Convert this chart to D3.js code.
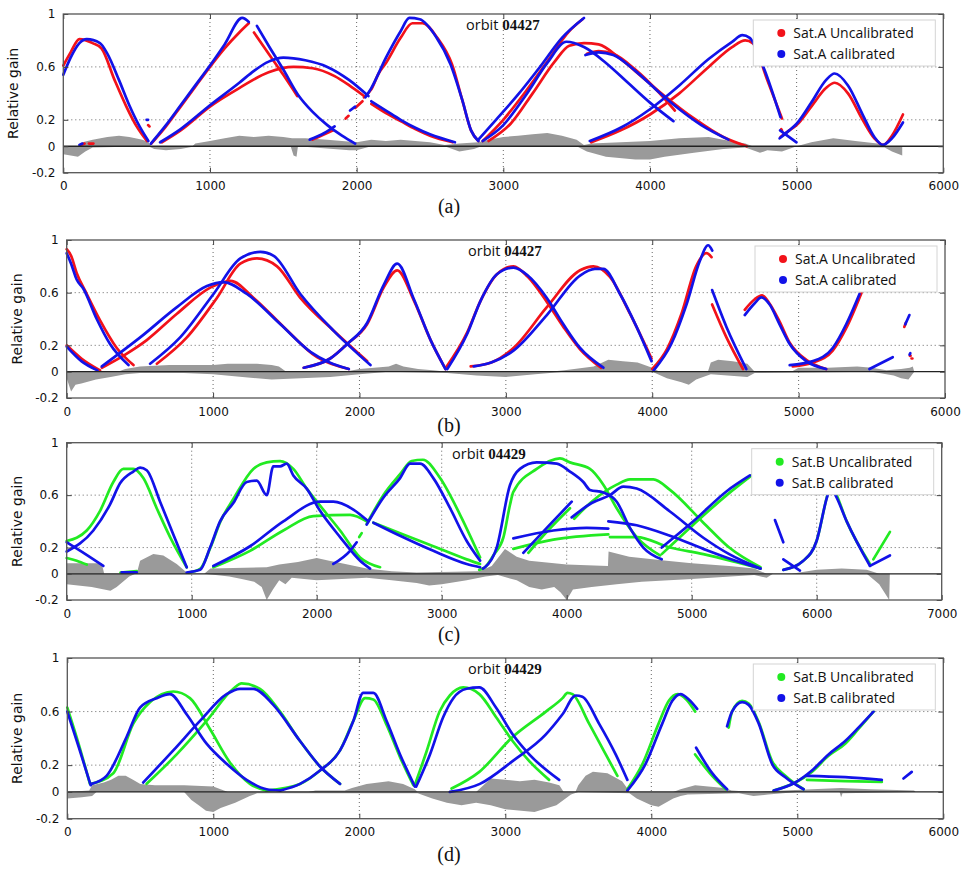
<!DOCTYPE html>
<html>
<head>
<meta charset="utf-8">
<script src="https://cdn.jsdelivr.net/npm/d3@7"></script>
<style>
  body { margin: 0; background: #fff; }
  svg { display: block; }
</style>
</head>
<body>
<svg id="chart" width="962" height="869"></svg>
<script>
// tick values
var xTicks6000 = [0, 1000, 2000, 3000, 4000, 5000, 6000];
var xTicks7000 = [0, 1000, 2000, 3000, 4000, 5000, 6000, 7000];
var yTicks = [-0.2, 0, 0.2, 0.6, 1];
var yGrid = [0.2, 0.6];

var captions = ['(a)', '(b)', '(c)', '(d)'];
var orbits = ['04427', '04427', '04429', '04429'];
var legendA = ['Sat.A Uncalibrated', 'Sat.A calibrated'];
var legendB = ['Sat.B Uncalibrated', 'Sat.B calibrated'];

// panel (a) - each entry is one run of samples [index, gain]
var aRed = [
    [[0,0.61],[50,0.71],[110,0.81],[200,0.78],[260,0.74],[350,0.5],[430,0.3],[500,0.15],[570,0.04]],
    [[120,0.01],[145,0.02]],
    [[175,0.02],[205,0.02]],
    [[578,0.16],[588,0.15]],
    [[600,0.02],[700,0.15],[800,0.3],[900,0.45],[1000,0.6],[1100,0.74],[1200,0.86],[1265,0.93]],
    [[1300,0.86],[1400,0.7],[1500,0.54],[1595,0.38]],
    [[672,0.03],[800,0.12],[1000,0.3],[1200,0.44],[1400,0.56],[1570,0.6],[1700,0.59],[1850,0.53],[1950,0.46],[2050,0.38]],
    [[1700,0.05],[1780,0.09],[1840,0.12]],
    [[1925,0.21],[1945,0.23]],
    [[1990,0.29],[2040,0.34]],
    [[2050,0.37],[2100,0.43],[2150,0.55],[2200,0.63],[2300,0.82],[2380,0.93],[2450,0.93],[2550,0.82],[2650,0.62],[2720,0.35],[2780,0.12],[2830,0.04]],
    [[2100,0.32],[2200,0.25],[2300,0.19],[2400,0.13],[2500,0.08],[2655,0.03]],
    [[2860,0.04],[3000,0.2],[3150,0.41],[3300,0.64],[3450,0.87],[3540,0.96]],
    [[2900,0.04],[3050,0.17],[3200,0.4],[3350,0.64],[3450,0.76],[3550,0.78],[3650,0.77],[3800,0.66],[3950,0.52],[4100,0.38],[4300,0.21],[4500,0.07],[4660,0.0]],
    [[3570,0.7],[3650,0.72],[3750,0.7],[3900,0.58],[4050,0.42],[4170,0.27]],
    [[3600,0.03],[3800,0.12],[4000,0.24],[4200,0.4],[4400,0.6],[4560,0.75],[4650,0.8],[4700,0.78],[4800,0.5],[4900,0.21]],
    [[4895,0.13],[4900,0.12]],
    [[4890,0.07],[4950,0.12],[5000,0.16],[5100,0.3],[5200,0.44],[5260,0.48],[5350,0.4],[5450,0.2],[5530,0.06],[5590,0.01],[5650,0.08],[5725,0.24]]
];
var aBlue = [
    [[0,0.54],[50,0.67],[110,0.78],[160,0.81],[250,0.78],[300,0.7],[380,0.5],[450,0.31],[520,0.15],[580,0.04]],
    [[110,0.01],[130,0.02]],
    [[568,0.2],[578,0.2]],
    [[597,0.02],[700,0.16],[800,0.31],[900,0.46],[1000,0.61],[1100,0.77],[1220,0.97],[1265,0.94]],
    [[1320,0.91],[1400,0.76],[1500,0.58],[1600,0.39],[1700,0.26],[1800,0.16],[1900,0.08],[1990,0.02]],
    [[660,0.03],[800,0.13],[1000,0.31],[1200,0.48],[1300,0.57],[1400,0.64],[1500,0.67],[1650,0.65],[1800,0.6],[1950,0.5],[2080,0.38]],
    [[1680,0.05],[1780,0.1],[1850,0.15]],
    [[1955,0.27],[1990,0.3]],
    [[2060,0.37],[2100,0.44],[2200,0.67],[2300,0.87],[2360,0.97],[2430,0.96],[2540,0.83],[2640,0.62],[2720,0.35],[2780,0.12],[2830,0.04]],
    [[2100,0.34],[2200,0.27],[2300,0.2],[2400,0.14],[2500,0.09],[2670,0.03]],
    [[2830,0.05],[2950,0.2],[3100,0.39],[3250,0.6],[3400,0.82],[3550,0.97]],
    [[2860,0.04],[3000,0.16],[3150,0.38],[3300,0.63],[3430,0.79],[3550,0.75],[3700,0.63],[3850,0.48],[4000,0.33],[4160,0.19]],
    [[3560,0.69],[3650,0.71],[3750,0.69],[3900,0.57],[4050,0.42],[4200,0.28],[4350,0.16],[4535,0.05]],
    [[3590,0.04],[3800,0.14],[4000,0.28],[4200,0.46],[4400,0.66],[4560,0.79],[4630,0.84],[4680,0.82],[4780,0.58],[4890,0.22]],
    [[4887,0.12],[4999,0.03]],
    [[4884,0.06],[4950,0.12],[5000,0.17],[5100,0.33],[5200,0.5],[5259,0.55],[5350,0.46],[5450,0.24],[5530,0.07],[5587,0.01],[5650,0.06],[5725,0.18]]
];
var aGrayPos = [[0,0],[100,0],[130,0.03],[200,0.05],[300,0.07],[380,0.08],[450,0.07],[540,0.05],[580,0.03],[600,0],[880,0],[900,0.02],[1000,0.04],[1100,0.06],[1150,0.07],[1200,0.08],[1300,0.07],[1400,0.08],[1500,0.07],[1560,0.06],[1650,0.06],[1800,0.05],[1900,0.04],[2000,0.03],[2100,0.05],[2200,0.04],[2300,0.05],[2400,0.04],[2500,0.03],[2600,0.01],[2700,0.02],[2830,0.03],[2900,0.05],[3000,0.07],[3100,0.08],[3200,0.09],[3300,0.1],[3400,0.08],[3500,0.05],[3550,0.01],[3600,0.02],[3800,0.03],[4000,0.04],[4200,0.06],[4400,0.07],[4500,0.05],[4650,0.02],[4700,0],[5000,0],[5100,0.03],[5250,0.06],[5400,0.04],[5550,0.02],[5600,0],[5720,0]];
var aGrayNeg = [[0,-0.06],[100,-0.08],[150,-0.04],[200,-0.01],[580,0],[620,-0.02],[700,-0.03],[800,-0.02],[900,0],[1550,0],[1570,-0.07],[1590,-0.08],[1600,0],[1950,-0.03],[2000,-0.03],[2100,0],[2600,0],[2700,-0.04],[2800,-0.02],[2850,0],[3500,0],[3570,-0.04],[3700,-0.08],[3900,-0.1],[4000,-0.1],[4100,-0.08],[4300,-0.05],[4500,-0.02],[4650,-0.01],[4750,-0.05],[4800,-0.03],[4900,-0.04],[5000,0],[5600,-0.01],[5650,-0.04],[5720,-0.07]];

// panel (b)
var bRed = [
    [[0,0.93],[30,0.88],[68,0.75],[137,0.59],[228,0.39],[342,0.18],[456,0.05]],
    [[0,0.2],[100,0.1],[228,0.01]],
    [[240,0.03],[400,0.13],[547,0.24],[753,0.44],[984,0.64],[1120,0.69],[1277,0.56],[1482,0.34],[1710,0.11],[1927,0.02]],
    [[616,0.06],[821,0.26],[1026,0.56],[1186,0.82],[1300,0.86],[1437,0.8],[1596,0.56],[1824,0.31],[2052,0.08]],
    [[1619,0.03],[1800,0.1],[1916,0.21],[2052,0.36],[2166,0.64],[2258,0.77],[2372,0.54],[2486,0.24],[2588,0.02]],
    [[2590,0.03],[2737,0.3],[2828,0.54],[2939,0.74],[3052,0.8],[3150,0.72],[3280,0.53],[3393,0.34],[3507,0.17],[3650,0.03]],
    [[2760,0.04],[2900,0.07],[3052,0.18],[3280,0.49],[3507,0.77],[3598,0.8],[3711,0.72],[3848,0.44],[3995,0.1]],
    [[4000,0.02],[4100,0.17],[4200,0.44],[4300,0.8],[4370,0.9],[4405,0.87]],
    [[4409,0.51],[4507,0.26],[4620,0.02]],
    [[4632,0.47],[4700,0.55],[4750,0.58],[4800,0.52],[4870,0.38],[4939,0.22],[5052,0.09],[5188,0.02]],
    [[4960,0.04],[5100,0.07],[5233,0.16],[5325,0.33],[5430,0.6]],
    [[5722,0.34],[5732,0.37]],
    [[5760,0.12],[5765,0.12]],
    [[5772,0.1],[5777,0.1]]
];
var bBlue = [
    [[0,0.9],[30,0.82],[68,0.7],[114,0.63],[205,0.4],[296,0.21],[422,0.05]],
    [[0,0.19],[100,0.08],[210,0.01]],
    [[240,0.04],[502,0.26],[753,0.49],[958,0.65],[1072,0.68],[1231,0.59],[1460,0.36],[1665,0.15],[1927,0.02]],
    [[570,0.06],[775,0.26],[1003,0.59],[1186,0.86],[1323,0.91],[1414,0.88],[1596,0.59],[1824,0.31],[2075,0.05]],
    [[1619,0.03],[1800,0.1],[1916,0.21],[2052,0.37],[2166,0.66],[2258,0.82],[2372,0.55],[2486,0.24],[2588,0.02]],
    [[2600,0.02],[2737,0.29],[2828,0.54],[2939,0.74],[3052,0.79],[3150,0.73],[3280,0.56],[3393,0.36],[3507,0.18],[3666,0.03]],
    [[2780,0.04],[2900,0.07],[3052,0.16],[3280,0.43],[3507,0.73],[3609,0.78],[3666,0.78],[3780,0.59],[3893,0.34],[3995,0.08]],
    [[4010,0.01],[4130,0.21],[4234,0.51],[4325,0.84],[4382,0.96],[4410,0.92]],
    [[4409,0.62],[4507,0.34],[4643,0.02]],
    [[4632,0.43],[4700,0.52],[4745,0.565],[4802,0.51],[4870,0.36],[4939,0.21],[5052,0.08],[5188,0.02]],
    [[4939,0.05],[5097,0.08],[5233,0.18],[5325,0.36],[5416,0.59]],
    [[5484,0.02],[5643,0.11]],
    [[5729,0.36],[5757,0.43]],
    [[5758,0.13],[5763,0.14]]
];
var bGrayPos = [[0,0],[350,0],[400,0.02],[500,0.04],[700,0.05],[1000,0.05],[1100,0.06],[1300,0.06],[1400,0.05],[1450,0.04],[1500,0],[1900,0],[2000,0.02],[2100,0.03],[2200,0.04],[2250,0.06],[2300,0.04],[2400,0.02],[2500,0.01],[2600,0],[3300,0],[3400,0.01],[3600,0.04],[3700,0.09],[3800,0.08],[3900,0.07],[4000,0.03],[4050,0],[4380,0],[4400,0.07],[4450,0.09],[4550,0.08],[4650,0.06],[4700,0],[4950,0],[5000,0.03],[5200,0.03],[5400,0.04],[5500,0.03],[5600,0.01],[5700,0.02],[5760,0.03],[5780,0.04],[5790,0]];
var bGrayNeg = [[0,-0.05],[30,-0.15],[60,-0.1],[100,-0.09],[200,-0.06],[300,-0.04],[400,-0.02],[500,-0.01],[800,-0.01],[1000,-0.02],[1200,-0.04],[1400,-0.06],[1600,-0.05],[1800,-0.04],[2000,-0.02],[2200,0],[2600,-0.01],[2800,-0.03],[3000,-0.04],[3200,-0.02],[3400,0],[4000,0],[4100,-0.05],[4200,-0.08],[4250,-0.1],[4300,-0.06],[4400,-0.02],[4650,-0.04],[4700,-0.01],[5500,0],[5650,-0.03],[5700,-0.05],[5750,-0.06],[5790,0]];

// panel (c)
var cGreen = [
    [[0,0.25],[160,0.33],[267,0.48],[373,0.7],[453,0.8],[533,0.8],[613,0.73],[720,0.5],[827,0.28],[960,0.05]],
    [[0,0.12],[80,0.1],[160,0.07]],
    [[430,0.01],[560,0.02]],
    [[975,0.01],[1070,0.04],[1150,0.2],[1230,0.4],[1333,0.57],[1493,0.8],[1600,0.85],[1707,0.86],[1813,0.8],[1920,0.65],[2027,0.52],[2187,0.33],[2347,0.125],[2507,0.05]],
    [[1173,0.05],[1467,0.175],[1733,0.33],[1973,0.44],[2267,0.45],[2400,0.4]],
    [[2453,0.39],[2667,0.31],[2933,0.21],[3200,0.11],[3307,0.075]],
    [[2340,0.28],[2360,0.31]],
    [[2400,0.38],[2533,0.6],[2667,0.76],[2760,0.86],[2850,0.87],[2987,0.73],[3147,0.45],[3307,0.125]],
    [[3300,0.03],[3346,0.05],[3420,0.15],[3493,0.275],[3546,0.525],[3573,0.625],[3760,0.8],[3946,0.88],[4026,0.85],[4186,0.8],[4293,0.68],[4400,0.5],[4560,0.28],[4746,0.14]],
    [[3693,0.16],[3850,0.33],[4026,0.5]],
    [[3573,0.19],[3893,0.26],[4333,0.3]],
    [[4346,0.28],[4560,0.28],[4826,0.2],[5093,0.15],[5350,0.09],[5550,0.04]],
    [[4060,0.42],[4200,0.55],[4400,0.68],[4506,0.72],[4693,0.72],[4826,0.64],[5093,0.39],[5300,0.2],[5550,0.05]],
    [[4760,0.15],[5013,0.375],[5280,0.6],[5493,0.76]],
    [[5733,0.03],[5893,0.1],[5999,0.25],[6080,0.58],[6110,0.68],[6150,0.62],[6240,0.4],[6426,0.075]],
    [[6453,0.11],[6586,0.32]]
];
var cBlue = [
    [[0,0.17],[213,0.33],[347,0.53],[427,0.69],[533,0.78],[587,0.81],[640,0.79],[747,0.55],[853,0.3],[960,0.05]],
    [[0,0.24],[150,0.15],[293,0.06]],
    [[440,0.01],[560,0.01]],
    [[960,0.01],[1067,0.03],[1147,0.2],[1227,0.4],[1333,0.54],[1440,0.7],[1520,0.71],[1600,0.6],[1653,0.82],[1707,0.82],[1760,0.84],[1813,0.75],[1920,0.65],[2027,0.48],[2187,0.28],[2347,0.1],[2427,0.04]],
    [[1173,0.06],[1467,0.21],[1733,0.4],[2027,0.55],[2133,0.55],[2293,0.49],[2413,0.4]],
    [[2453,0.39],[2667,0.29],[2933,0.175],[3200,0.075],[3307,0.05]],
    [[2133,0.075],[2267,0.175],[2320,0.24]],
    [[2400,0.375],[2533,0.58],[2667,0.73],[2747,0.84],[2827,0.84],[2933,0.73],[3067,0.5],[3200,0.25],[3307,0.1]],
    [[3330,0.04],[3346,0.05],[3440,0.2],[3546,0.675],[3626,0.8],[3760,0.85],[3920,0.84],[4026,0.78],[4133,0.7],[4186,0.64],[4293,0.62],[4400,0.55],[4506,0.35],[4613,0.2],[4760,0.11]],
    [[3653,0.16],[3850,0.36],[4040,0.55]],
    [[3573,0.27],[3893,0.33],[4160,0.35],[4333,0.345]],
    [[4333,0.4],[4560,0.37],[4826,0.29],[5093,0.19],[5350,0.1],[5550,0.04]],
    [[4040,0.43],[4200,0.54],[4346,0.6],[4453,0.665],[4560,0.65],[4826,0.475],[5093,0.275],[5300,0.15],[5550,0.04]],
    [[4760,0.2],[5013,0.4],[5280,0.63],[5466,0.75]],
    [[5666,0.41],[5733,0.24]],
    [[5733,0.11],[5866,0.025]],
    [[5733,0.03],[5893,0.1],[5999,0.25],[6080,0.575],[6110,0.66],[6150,0.6],[6240,0.4],[6426,0.06]],
    [[6426,0.06],[6586,0.14]]
];
var cGrayPos = [[0,0.08],[280,0.08],[300,0],[560,0],[587,0.1],[693,0.15],[773,0.14],[880,0.075],[960,0.01],[1000,0],[1100,0],[1150,0.04],[1600,0.05],[1700,0.07],[1850,0.09],[2000,0.12],[2100,0.1],[2200,0.08],[2400,0.04],[2600,0.02],[2800,0.01],[3300,0.02],[3400,0.06],[3506,0.19],[3600,0.13],[3700,0.1],[4000,0.07],[4330,0.06],[4335,0.17],[4500,0.13],[4800,0.1],[5000,0.08],[5300,0.06],[5500,0.04],[5600,0],[5800,0],[6000,0.03],[6200,0.04],[6400,0.03],[6500,0]];
var cGrayNeg = [[0,-0.08],[200,-0.1],[300,-0.12],[350,-0.13],[400,-0.1],[450,-0.06],[500,-0.02],[550,0],[1100,0],[1300,-0.02],[1400,-0.04],[1500,-0.06],[1560,-0.1],[1600,-0.2],[1650,-0.12],[1700,-0.05],[1750,-0.08],[1800,-0.03],[2000,-0.05],[2200,-0.04],[2400,-0.03],[2600,-0.05],[2800,-0.07],[2900,-0.09],[3000,-0.08],[3200,-0.05],[3350,-0.02],[3450,-0.01],[3600,-0.05],[3700,-0.1],[3800,-0.12],[3900,-0.1],[3950,-0.14],[4000,-0.2],[4050,-0.12],[4200,-0.1],[4400,-0.08],[4600,-0.06],[5000,-0.04],[5500,-0.01],[5600,-0.03],[5650,0],[6400,0],[6500,-0.08],[6580,-0.2],[6585,0]];

// panel (d)
var dGreen = [
    [[0,0.63],[80,0.35],[155,0.06]],
    [[160,0.06],[315,0.14],[452,0.51],[566,0.67],[726,0.75],[840,0.7],[977,0.47],[1114,0.22],[1251,0.06],[1365,0.01]],
    [[543,0.06],[749,0.28],[954,0.53],[1137,0.77],[1194,0.81],[1320,0.77],[1457,0.6],[1594,0.38],[1731,0.19],[1868,0.06]],
    [[1365,0.01],[1594,0.06],[1731,0.16],[1868,0.31],[1959,0.53],[2040,0.7],[2096,0.69],[2187,0.5],[2279,0.26],[2370,0.05]],
    [[2380,0.05],[2460,0.3],[2550,0.6],[2620,0.72],[2712,0.78],[2822,0.73],[2936,0.56],[3050,0.38],[3164,0.23],[3300,0.09]],
    [[2632,0.025],[2822,0.15],[3050,0.41],[3278,0.6],[3392,0.7],[3426,0.74],[3460,0.73],[3574,0.51],[3688,0.28],[3768,0.12]],
    [[3836,0.02],[3940,0.21],[4050,0.51],[4120,0.68],[4180,0.73],[4240,0.69],[4300,0.6]],
    [[4300,0.28],[4417,0.12],[4510,0.02]],
    [[4530,0.48],[4553,0.6],[4622,0.68],[4667,0.66],[4736,0.52],[4827,0.23],[4918,0.12],[5043,0.02]],
    [[4838,0.01],[4986,0.07],[5100,0.15],[5214,0.27],[5328,0.36],[5419,0.47],[5522,0.6]],
    [[5066,0.09],[5328,0.08],[5579,0.075]]
];
var dBlue = [
    [[0,0.6],[80,0.33],[160,0.05]],
    [[167,0.06],[269,0.12],[406,0.41],[498,0.63],[612,0.7],[703,0.73],[817,0.58],[954,0.36],[1091,0.21],[1228,0.09],[1365,0.02],[1457,0.01]],
    [[520,0.07],[726,0.31],[909,0.53],[1091,0.73],[1183,0.77],[1274,0.77],[1411,0.65],[1594,0.38],[1731,0.19],[1868,0.06]],
    [[1457,0.01],[1594,0.06],[1731,0.16],[1868,0.31],[1959,0.53],[2027,0.74],[2096,0.74],[2187,0.53],[2279,0.28],[2381,0.04]],
    [[2390,0.04],[2484,0.28],[2575,0.56],[2644,0.7],[2735,0.77],[2822,0.78],[2936,0.63],[3050,0.43],[3164,0.28],[3369,0.09]],
    [[2620,0.0],[2826,0.06],[3050,0.23],[3278,0.43],[3392,0.58],[3483,0.72],[3528,0.71],[3642,0.51],[3756,0.28],[3836,0.09]],
    [[3836,0.01],[3961,0.21],[4075,0.51],[4144,0.68],[4200,0.73],[4257,0.69],[4314,0.62]],
    [[4307,0.33],[4417,0.14],[4519,0.02]],
    [[4519,0.49],[4553,0.6],[4622,0.67],[4667,0.65],[4736,0.51],[4827,0.21],[4918,0.11],[5043,0.02]],
    [[4838,0.01],[4986,0.07],[5100,0.16],[5214,0.28],[5328,0.38],[5419,0.48],[5522,0.6]],
    [[5066,0.12],[5328,0.11],[5579,0.09]],
    [[5727,0.1],[5784,0.15]]
];
var dGrayPos = [[0,0],[150,0.01],[170,0.05],[250,0.07],[300,0.09],[350,0.12],[400,0.12],[450,0.09],[500,0.06],[600,0.05],[800,0.05],[1000,0.04],[1050,0.02],[1100,0],[1650,0],[1700,0.01],[1900,0.01],[1950,0.03],[2050,0.06],[2200,0.08],[2300,0.06],[2380,0.02],[2400,0],[2800,0],[2850,0.05],[2900,0.1],[3000,0.09],[3100,0.08],[3200,0.09],[3300,0.07],[3370,0.05],[3400,0],[3480,0],[3500,0.05],[3550,0.12],[3600,0.15],[3700,0.14],[3800,0.08],[3840,0.02],[3850,0],[4150,0],[4200,0.02],[4300,0.05],[4500,0.03],[4550,0.01],[4700,0],[5100,0.02],[5300,0.03],[5500,0.02],[5800,0.01],[5810,0]];
var dGrayNeg = [[0,-0.05],[100,-0.04],[170,-0.03],[200,0],[800,0],[850,-0.06],[900,-0.1],[950,-0.14],[1000,-0.15],[1050,-0.12],[1150,-0.08],[1250,-0.03],[1300,-0.01],[2400,-0.01],[2500,-0.05],[2600,-0.08],[2700,-0.1],[2800,-0.08],[2900,-0.1],[3000,-0.13],[3200,-0.15],[3350,-0.1],[3450,-0.02],[3500,0],[3850,-0.01],[3900,-0.05],[4000,-0.1],[4050,-0.11],[4150,-0.05],[4200,-0.03],[4250,-0.02],[4600,-0.01],[4700,-0.03],[4800,-0.02],[5000,0],[5290,0],[5300,-0.04],[5310,-0.01],[5800,0]];

var RED = '#f2121a', BLUE = '#1212e8', GREEN = '#22ea22', GRAY = '#9a9a9a';

var svg = d3.select('#chart');
svg.append('rect').attr('width', 962).attr('height', 869).attr('fill', '#fff');

// plot boxes, pixel layout of the four stacked panels
var panels = [
    {box: [63.3, 943.3, 14, 172.7], xMax: 6000, ticks: xTicks6000, unc: aRed, cal: aBlue, uncColor: RED, pos: aGrayPos, neg: aGrayNeg, legend: legendA, orbitX: 466, capY: 213},
    {box: [66.7, 945, 240, 398], xMax: 6000, ticks: xTicks6000, unc: bRed, cal: bBlue, uncColor: RED, pos: bGrayPos, neg: bGrayNeg, legend: legendA, orbitX: 468, capY: 432},
    {box: [66.7, 941.7, 442.7, 600], xMax: 7000, ticks: xTicks7000, unc: cGreen, cal: cBlue, uncColor: GREEN, pos: cGrayPos, neg: cGrayNeg, legend: legendB, orbitX: 452, capY: 641},
    {box: [67.3, 943.3, 658, 818.7], xMax: 6000, ticks: xTicks6000, unc: dGreen, cal: dBlue, uncColor: GREEN, pos: dGrayPos, neg: dGrayNeg, legend: legendB, orbitX: 468, capY: 861}
];

panels.forEach(function (p, i) {
    drawPanel(p, i);
});

function drawPanel(p, i) {
    var left = p.box[0], right = p.box[1], top = p.box[2], bottom = p.box[3];
    var x = d3.scaleLinear().domain([0, p.xMax]).range([left, right]),
        y = d3.scaleLinear().domain([-0.2, 1]).range([bottom, top]);

    var g = svg.append('g');

    // dotted grid
    g.selectAll('.vgrid').data(p.ticks.slice(1, -1))
        .enter().append('line')
        .attr('x1', function (d) { return x(d); })
        .attr('x2', function (d) { return x(d); })
        .attr('y1', top).attr('y2', bottom)
        .attr('stroke', '#666').attr('stroke-width', 1).attr('stroke-dasharray', '1,3');
    g.selectAll('.hgrid').data(yGrid)
        .enter().append('line')
        .attr('x1', left).attr('x2', right)
        .attr('y1', function (d) { return y(d); })
        .attr('y2', function (d) { return y(d); })
        .attr('stroke', '#666').attr('stroke-width', 1).attr('stroke-dasharray', '1,3');

    // gray difference band
    var area = d3.area()
        .x(function (d) { return x(d[0]); })
        .y0(y(0))
        .y1(function (d) { return y(d[1]); });
    g.append('path').attr('d', area(p.pos)).attr('fill', GRAY);
    g.append('path').attr('d', area(p.neg)).attr('fill', GRAY);

    var line = d3.line()
        .x(function (d) { return x(d[0]); })
        .y(function (d) { return y(d[1]); })
        .curve(d3.curveMonotoneX);

    g.selectAll('.unc').data(p.unc)
        .enter().append('path')
        .attr('d', line)
        .attr('fill', 'none').attr('stroke', p.uncColor)
        .attr('stroke-width', 2.7).attr('stroke-linecap', 'round').attr('stroke-linejoin', 'round');
    g.selectAll('.cal').data(p.cal)
        .enter().append('path')
        .attr('d', line)
        .attr('fill', 'none').attr('stroke', BLUE)
        .attr('stroke-width', 2.7).attr('stroke-linecap', 'round').attr('stroke-linejoin', 'round');

    // zero line
    g.append('line')
        .attr('x1', left).attr('x2', right)
        .attr('y1', y(0)).attr('y2', y(0))
        .attr('stroke', '#222').attr('stroke-width', 1.3);

    // axes with inward ticks
    g.append('g').attr('transform', 'translate(0,' + bottom + ')')
        .call(d3.axisBottom(x).tickValues(p.ticks).tickSize(-5).tickPadding(9).tickFormat(d3.format('d')));
    g.append('g').attr('transform', 'translate(0,' + top + ')')
        .call(d3.axisTop(x).tickValues(p.ticks).tickSize(-5).tickFormat(''));
    g.append('g').attr('transform', 'translate(' + left + ',0)')
        .call(d3.axisLeft(y).tickValues(yTicks).tickSize(-5).tickPadding(8).tickFormat(function (d) { return String(d); }));
    g.append('g').attr('transform', 'translate(' + right + ',0)')
        .call(d3.axisRight(y).tickValues(yTicks).tickSize(-5).tickFormat(''));

    g.selectAll('.domain').remove();
    g.selectAll('.tick line').attr('stroke', '#444');
    g.selectAll('.tick text').attr('font-family', 'DejaVu Sans').attr('font-size', 12).attr('fill', '#111');

    g.append('rect')
        .attr('x', left).attr('y', top)
        .attr('width', right - left).attr('height', bottom - top)
        .attr('fill', 'none').attr('stroke', '#555').attr('stroke-width', 1.3);

    g.append('text')
        .attr('transform', 'translate(' + (left - 45) + ',' + ((top + bottom) / 2) + ') rotate(-90)')
        .attr('text-anchor', 'middle')
        .attr('font-family', 'DejaVu Sans').attr('font-size', 14).attr('fill', '#111')
        .text('Relative gain');

    // orbit label
    var orbit = g.append('text')
        .attr('x', p.orbitX).attr('y', top + 16)
        .attr('fill', '#111');
    orbit.append('tspan').attr('font-family', 'Open Sans').attr('font-size', 14.5).text('orbit ');
    orbit.append('tspan').attr('font-family', 'Liberation Serif').attr('font-weight', 'bold').attr('font-size', 15).text(orbits[i]);

    // legend
    var lx = right - 190, ly = top + 6;
    var lg = g.append('g').attr('transform', 'translate(' + lx + ',' + ly + ')');
    lg.append('rect').attr('width', 182).attr('height', 46)
        .attr('fill', '#fff').attr('stroke', '#d4d4d4').attr('stroke-width', 1);
    var colors = [p.uncColor, BLUE];
    p.legend.forEach(function (label, k) {
        lg.append('circle').attr('cx', 28).attr('cy', 13 + k * 21).attr('r', 4).attr('fill', colors[k]);
        lg.append('text').attr('x', 40).attr('y', 13 + k * 21).attr('dy', '0.35em')
            .attr('font-family', 'Open Sans').attr('font-size', 14).attr('fill', '#111')
            .text(label);
    });

    // caption
    svg.append('text')
        .attr('x', 449).attr('y', p.capY)
        .attr('text-anchor', 'middle')
        .attr('font-family', 'Liberation Serif').attr('font-size', 20).attr('fill', '#111')
        .text(captions[i]);
}
</script>
</body>
</html>
